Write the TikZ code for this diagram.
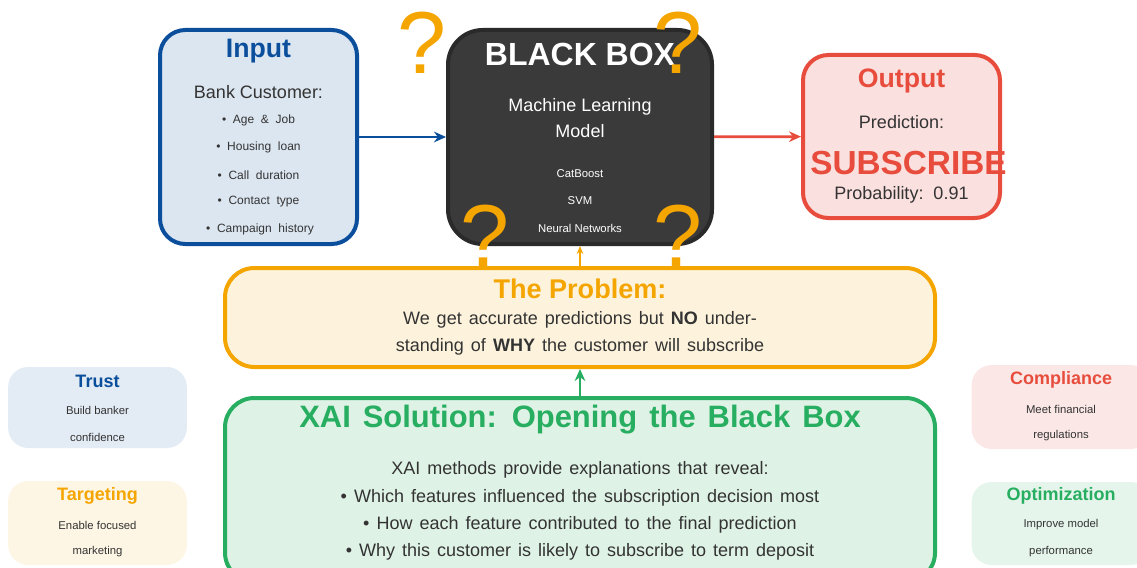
\documentclass[tikz,border=0pt]{standalone}
\usepackage{fontspec}
\setmainfont{Liberation Sans}
\newfontfamily\widesp[WordSpace=1.4]{Liberation Sans}
\usetikzlibrary{arrows.meta}
\definecolor{cblue}{HTML}{0B4F9C}
\definecolor{cbluefill}{HTML}{DCE6F1}
\definecolor{cred}{HTML}{E74C3C}
\definecolor{credfill}{HTML}{FAE0DE}
\definecolor{corange}{HTML}{F5A500}
\definecolor{corangefill}{HTML}{FDF3DC}
\definecolor{cgreen}{HTML}{27AE60}
\definecolor{cgreenfill}{HTML}{DFF2E6}
\definecolor{cdark}{HTML}{3A3A3A}
\definecolor{cdarkline}{HTML}{2A2A2A}
\definecolor{ctext}{HTML}{333333}
\tikzset{
  box/.style={draw, line width=3pt, rounded corners=19pt, inner sep=0pt},
  sidebox/.style={rounded corners=15pt, inner sep=0pt, minimum width=134pt},
  big/.style={font=\fontsize{20}{22}\selectfont\bfseries},
  mid/.style={font=\fontsize{13.5}{15}\selectfont, text=ctext},
  small/.style={font=\fontsize{8.5}{10}\selectfont, text=ctext},
  card/.style={font=\fontsize{13.5}{15}\selectfont\bfseries},
  bodytext/.style={font=\widesp\fontsize{13.5}{15}\selectfont, text=ctext},
  qmark/.style={font=\fontsize{66}{66}\selectfont, text=corange},
  link/.style={-{Stealth[length=9pt,width=8pt]}, line width=2pt}
}
\begin{document}
\begin{tikzpicture}[x=0.75pt,y=-0.75pt]
\useasboundingbox (0,0) rectangle (1137,567);
\clip (0,0) rectangle (1137,567);

% question mark behind the model box
\node[qmark] (q1) at (422,43) {?};

% input panel
\node[box, draw=cblue, fill=cbluefill, minimum width=147.75pt, minimum height=160.5pt] (input) at (258.5,137) {};
\node[big, text=cblue] (inT) at (258.5,51) {Input};
\node[mid] (inS) at (258.5,92) {Bank\ Customer:};
\node[small, font=\fontsize{9}{10}\selectfont] (in1) at (258.5,120) {\textbullet\ \ Age\ \ \&\ \ Job};
\node[small, font=\fontsize{9}{10}\selectfont] (in2) at (258.5,147) {\textbullet\ \ Housing\ \ loan};
\node[small, font=\fontsize{9}{10}\selectfont] (in3) at (258.5,175) {\textbullet\ \ Call\ \ duration};
\node[small, font=\fontsize{9}{10}\selectfont] (in4) at (258.5,202) {\textbullet\ \ Contact\ \ type};
\node[small, font=\fontsize{9}{10}\selectfont] (in5) at (260,229) {\textbullet\ \ Campaign\ \ history};

% model panel
\node[box, draw=cdarkline, fill=cdark, rounded corners=26pt, minimum width=198pt, minimum height=160.5pt] (model) at (580,137) {};
\node[font=\fontsize{24}{26}\selectfont\bfseries, text=white] (mT) at (580,54) {BLACK BOX};
\node[text=white, align=center, font=\fontsize{13.5}{20}\selectfont] (mS) at (580,118) {Machine Learning\\Model};
\node[small, text=white] (m1) at (580,174) {CatBoost};
\node[small, text=white] (m2) at (580,201) {SVM};
\node[small, text=white] (m3) at (580,228) {Neural Networks};

% output panel
\node[box, draw=cred, fill=credfill, minimum width=147.75pt, minimum height=122.25pt] (output) at (901.5,136.5) {};
\node[big, text=cred] (oT) at (901.5,81) {Output};
\node[mid] (oS) at (901.5,122) {Prediction:};
\node[font=\fontsize{25}{27}\selectfont\bfseries, text=cred, anchor=west, inner sep=0pt] (oP) at (810,163) {SUBSCRIBE};
\node[mid] (oV) at (901.5,195) {Probability:\ \ 0.91};

% question marks over the model box
\node[qmark] (q2) at (678,43) {?};
\node[qmark] (q3) at (485,236) {?};
\node[qmark] (q4) at (678,236) {?};

% problem panel
\node[box, draw=corange, fill=corangefill, rounded corners=22pt, minimum width=532.5pt, minimum height=74.25pt] (problem) at (580,317.5) {};
\node[text=corange, font=\fontsize{20.3}{22}\selectfont\bfseries] (pT) at (580,289) {The Problem:};
\node[bodytext] (p1) at (580,320) {We get accurate predictions but \textbf{NO} under-};
\node[bodytext] (p2) at (580,347) {standing of \textbf{WHY} the customer will subscribe};

% solution panel
\node[box, draw=cgreen, fill=cgreenfill, rounded corners=22pt, minimum width=532.5pt, minimum height=138pt] (xai) at (580,490) {};
\node[text=cgreen, font=\widesp\fontsize{23.2}{25}\selectfont\bfseries] (xT) at (580,420) {XAI Solution: Opening the Black Box};
\node[bodytext] (x0) at (580,470) {XAI methods provide explanations that reveal:};
\node[bodytext] (x1) at (580,498) {\textbullet\ Which features influenced the subscription decision most};
\node[bodytext] (x2) at (580,525) {\textbullet\ How each feature contributed to the final prediction};
\node[bodytext] (x3) at (580,552) {\textbullet\ Why this customer is likely to subscribe to term deposit};

% benefit cards
\node[sidebox, fill=cbluefill!80!white, minimum height=60.75pt] (trust) at (97.5,407.5) {};
\node[card, text=cblue] (tT) at (97.5,381) {Trust};
\node[small] (t1) at (97.5,410) {Build banker};
\node[small] (t2) at (97.5,437) {confidence};

\node[sidebox, fill=corangefill!75!white, minimum height=63pt] (target) at (97.5,523) {};
\node[card, text=corange] (gT) at (97.5,496) {Targeting};
\node[small] (g1) at (97.5,525) {Enable focused};
\node[small] (g2) at (97.5,552) {marketing};

\node[sidebox, fill=credfill!75!white, minimum height=63pt] (comp) at (1061,407) {};
\node[card, text=cred] (cT) at (1061,380) {Compliance};
\node[small] (c1) at (1061,409) {Meet financial};
\node[small] (c2) at (1061,436) {regulations};

\node[sidebox, fill=cgreenfill!80!white, minimum height=62.25pt] (optim) at (1061,523.5) {};
\node[card, text=cgreen] (zT) at (1061,496) {Optimization};
\node[small] (z1) at (1061,525) {Improve model};
\node[small] (z2) at (1061,552) {performance};

% connectors
\draw[link, cblue] (input) -- (model);
\draw[link, cred] (model) -- (output);
\draw[-{Stealth[length=6pt,width=5pt]}, line width=1pt, corange] (problem) -- (model);
\draw[link, cgreen] (xai) -- (problem);
\end{tikzpicture}
\end{document}
